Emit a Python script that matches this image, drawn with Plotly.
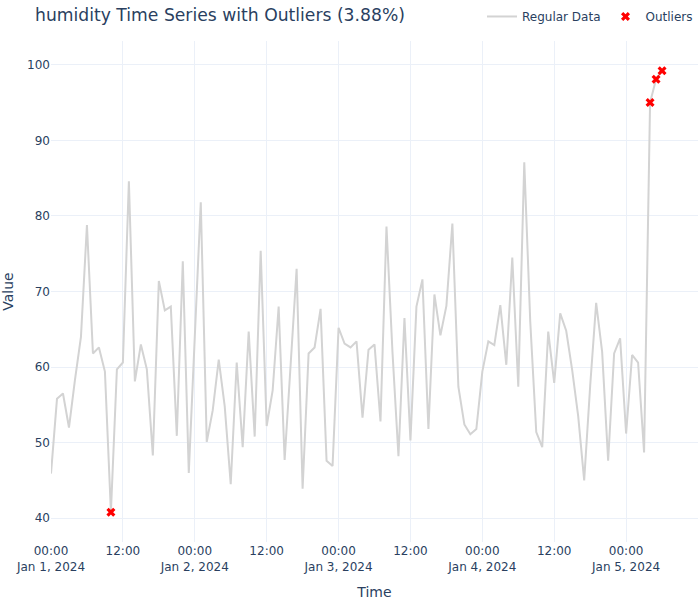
import pandas as pd
import plotly.graph_objects as go

# hourly humidity readings, Jan 1 00:00 onwards
start = "2024-01-01 00:00"
humidity = [
    45.9, 55.8, 56.5, 52.0, 58.3, 64.0, 78.8, 61.8, 62.6, 59.4,
    40.8, 59.7, 60.6, 84.6, 58.1, 63.0, 59.7, 48.3, 71.4, 67.5,
    68.0, 50.9, 74.0, 46.0, 64.0, 81.8, 50.1, 54.3, 61.0, 54.8,
    44.5, 60.6, 49.4, 64.7, 50.8, 75.4, 52.2, 56.9, 68.0, 47.7,
    60.3, 73.0, 43.9, 61.8, 62.6, 67.7, 47.6, 46.9, 65.2, 63.1,
    62.6, 63.4, 53.3, 62.3, 63.0, 52.8, 78.6, 62.0, 48.2, 66.5,
    50.3, 68.0, 71.6, 51.8, 69.6, 64.2, 68.1, 79.0, 57.4, 52.4,
    51.1, 51.8, 59.4, 63.4, 62.9, 68.2, 60.3, 74.5, 57.4, 87.1,
    66.0, 51.4, 49.4, 64.7, 57.9, 67.1, 64.8, 59.6, 53.5, 45.0,
    57.5, 68.5, 62.0, 47.6, 61.8, 63.8, 51.2, 61.6, 60.6, 48.7,
    95.0, 98.1, 99.2,
]
outlier_idx = [10, 100, 101, 102]

times = pd.date_range(start, periods=len(humidity), freq="h")
out_times = [times[i] for i in outlier_idx]
out_vals = [humidity[i] for i in outlier_idx]
pct = len(outlier_idx) / len(humidity) * 100

fig = go.Figure()
fig.add_trace(go.Scatter(x=times, y=humidity, mode="lines", name="Regular Data",
                         line=dict(color="lightgray", width=2)))
fig.add_trace(go.Scatter(x=out_times, y=out_vals, mode="markers", name="Outliers",
                         marker=dict(color="red", symbol="x", size=8)))

fig.update_layout(
    template="plotly_white",
    width=700, height=600,
    font=dict(family="DejaVu Sans", size=12),
    title=dict(text=f"humidity Time Series with Outliers ({pct:.2f}%)",
               x=0.05, xanchor="left", y=0.975, yanchor="middle",
               font=dict(size=17.2)),
    xaxis_title="Time", yaxis_title="Value",
    legend=dict(orientation="h", x=1, xanchor="right", y=1.02, yanchor="bottom"),
    margin=dict(l=48, r=2, t=35, b=54),
    xaxis=dict(range=["2024-01-01 00:00", "2024-01-05 12:00"],
               dtick=12 * 3600 * 1000, tick0="2024-01-01 00:00"),
    yaxis=dict(range=[36.85, 103.15], dtick=10),
)

# page body margin would shift the 700x600 figure, drop it
fig.write_html("out.html", config={"displayModeBar": False},
               post_script="document.body.style.margin='0';")
